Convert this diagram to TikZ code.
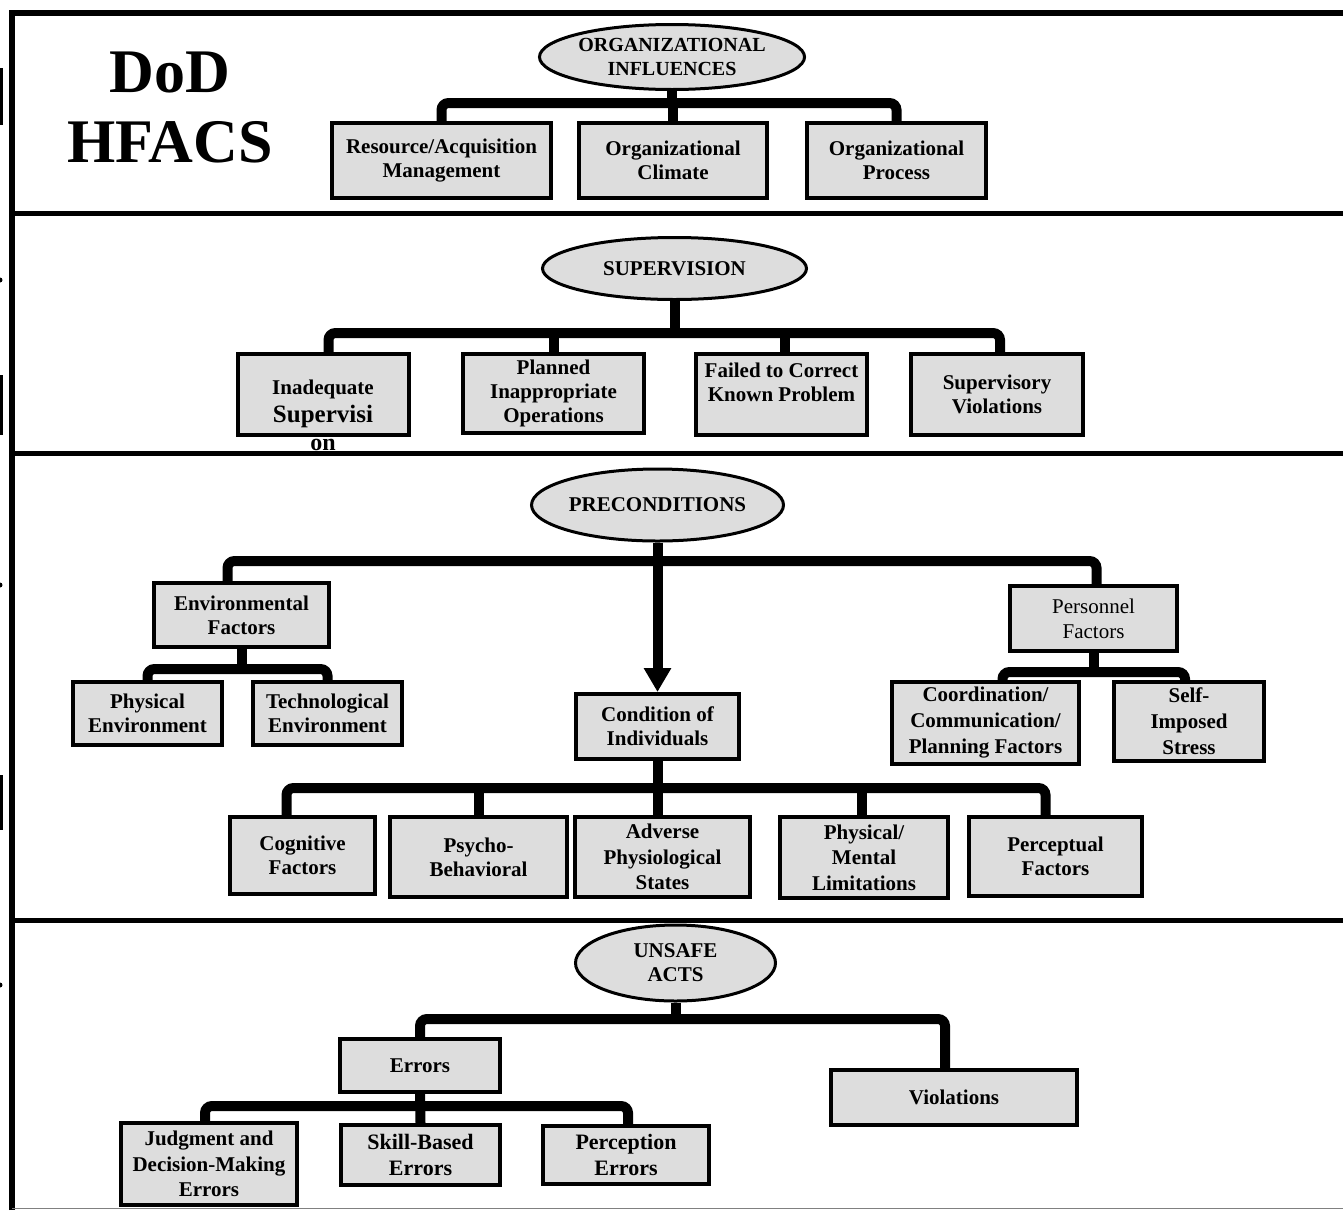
\documentclass[tikz,border=0pt]{standalone}
\usepackage{fontspec}
\setmainfont{Liberation Serif}
\usetikzlibrary{shapes.geometric,arrows.meta}
\definecolor{boxgray}{RGB}{221,221,221}
\tikzset{
  box/.style={draw, line width=4pt, fill=boxgray, inner sep=0pt, align=center,
    font=\bfseries\fontsize{21}{24}\selectfont},
  oval/.style={ellipse, draw, line width=3pt, fill=boxgray, inner sep=0pt, align=center,
    font=\bfseries\fontsize{21}{24}\selectfont},
  conn/.style={line width=10pt, rounded corners=7pt},
  divider/.style={line width=5pt},
  plaintext/.style={inner sep=0pt, align=center}
}
\begin{document}
\begin{tikzpicture}[x=1pt,y=-1pt]
\useasboundingbox (0,0) rectangle (1343,1210);
% frame
\draw[line width=6pt, line join=miter] (12,1210) -- (12,13) -- (1343,13);
\draw[divider] (12,213) -- (1343,213);
\draw[divider] (12,453) -- (1343,453);
\draw[divider] (12,920) -- (1343,920);
\draw[gray, line width=1.5pt] (12,1208.5) -- (1343,1208.5);
% left-edge fragments
\fill (0,68) rectangle (3,125);
\fill (0,375) rectangle (3,435);
\fill (0,775) rectangle (3,830);
\fill (0,280) circle (2.5);
\fill (0,585) circle (2.5);
\fill (0,985) circle (2.5);
% title
\node[plaintext, font=\bfseries\fontsize{62}{70}\selectfont] (title) at (170,108) {DoD\\HFACS};

% ---------- Organizational influences
\node[oval, minimum width=263pt, minimum height=65pt, font=\bfseries\fontsize{20}{24}\selectfont] (org) at (672,57) {ORGANIZATIONAL\\INFLUENCES};
\node[box, minimum width=219pt, minimum height=75pt] (res) at (441.5,160.5) {Resource/Acquisition\\Management};
\node[box, minimum width=188pt, minimum height=75pt] (clim) at (673,160.5) {Organizational\\Climate};
\node[box, minimum width=179pt, minimum height=75pt] (proc) at (896.5,160.5) {Organizational\\Process};
\coordinate (obar) at (672,103);
\draw[conn] (res.north) |- (obar) -| (proc.north);
\draw[conn] (org.south) -- (obar);
\draw[conn] (clim.north) -- (clim.north |- obar);

% ---------- Supervision
\node[oval, minimum width=264pt, minimum height=62pt] (sup) at (674.5,268.5) {SUPERVISION};
\node[box, minimum width=171pt, minimum height=81pt] (inad) at (323.5,394.5) {};
\node[plaintext, font=\bfseries\fontsize{21}{28}\selectfont] (inadtxt) at (323,415)
  {Inadequate\\{\fontsize{25}{28}\selectfont Supervisi}\\{\fontsize{24}{28}\selectfont on}};
\node[box, minimum width=181pt, minimum height=79pt] (plan) at (553.5,393.5) {Planned\\Inappropriate\\Operations};
\node[box, minimum width=171pt, minimum height=81pt] (fail) at (781.5,394.5) {Failed to Correct\\Known Problem\\\mbox{}};
\node[box, minimum width=172pt, minimum height=81pt] (supv) at (997,394.5) {Supervisory\\Violations};
\coordinate (sbar) at (674.5,333);
\draw[conn] ([xshift=5pt]inad.north) |- (sbar) -| ([xshift=3pt]supv.north);
\draw[conn] (sup.south) -- (sbar);
\draw[conn] (plan.north) -- (plan.north |- sbar);
\draw[conn] ([xshift=3pt]fail.north) -- ([xshift=3pt]fail.north |- sbar);

% ---------- Preconditions
\node[oval, minimum width=252pt, minimum height=72pt] (pre) at (657.5,505) {PRECONDITIONS};
\node[box, minimum width=175pt, minimum height=64pt] (envf) at (241.5,615) {Environmental\\Factors};
\node[box, minimum width=167pt, minimum height=65pt, font=\fontsize{21}{25}\selectfont] (pers) at (1093.5,618.5) {Personnel\\Factors};
\node[box, minimum width=149pt, minimum height=63pt] (phys) at (147.5,713.5) {Physical\\Environment};
\node[box, minimum width=149pt, minimum height=63pt] (tech) at (327.5,713.5) {Technological\\Environment};
\node[box, minimum width=187pt, minimum height=82pt, font=\bfseries\fontsize{21}{26}\selectfont] (coord) at (985.5,723) {Coordination/\\Communication/\\Planning Factors};
\node[box, minimum width=150pt, minimum height=79pt, font=\bfseries\fontsize{21}{26}\selectfont] (selfi) at (1189,721.5) {Self-\\Imposed\\Stress};
\node[box, minimum width=163pt, minimum height=65pt] (cond) at (657.5,726.5) {Condition of\\Individuals};
\node[box, minimum width=145pt, minimum height=77pt] (cog) at (302.5,855.5) {Cognitive\\Factors};
\node[box, minimum width=177pt, minimum height=80pt] (psy) at (478.5,857) {Psycho-\\Behavioral};
\node[box, minimum width=175pt, minimum height=80pt, font=\bfseries\fontsize{21}{25.5}\selectfont] (adv) at (662.5,857) {Adverse\\Physiological\\States};
\node[box, minimum width=168pt, minimum height=81pt, font=\bfseries\fontsize{21}{25.5}\selectfont] (pml) at (864,857.5) {Physical/\\Mental\\Limitations};
\node[box, minimum width=173pt, minimum height=79pt] (perc) at (1055.5,856.5) {Perceptual\\Factors};

\coordinate (pbar) at (657.5,561);
\draw[conn] ([xshift=-14pt]envf.north) |- (pbar) -| ([xshift=3pt]pers.north);
\draw[line width=10pt, -{Triangle[length=24pt,width=26pt]}] (pre.south) -- (cond.north);
\coordinate (ebar) at (241.5,669);
\draw[conn] (phys.north) |- (ebar) -| (tech.north);
\draw[conn] (envf.south) -- (ebar);
\coordinate (prbar) at (1093.5,672);
\draw[conn] ([xshift=17pt]coord.north) |- (prbar) -| ([xshift=-4pt]selfi.north);
\draw[conn] (pers.south) -- (prbar);
\coordinate (cbar) at (657.5,788);
\draw[conn] ([xshift=-16pt]cog.north) |- (cbar) -| ([xshift=-10pt]perc.north);
\draw[conn] (cond.south) -- (cbar);
\draw[conn] (psy.north) -- (psy.north |- cbar);
\draw[conn] ([xshift=-5pt]adv.north) -- ([xshift=-5pt]adv.north |- cbar);
\draw[conn] ([xshift=-2pt]pml.north) -- ([xshift=-2pt]pml.north |- cbar);

% ---------- Unsafe acts
\node[oval, minimum width=200pt, minimum height=76pt] (ua) at (675.5,963) {UNSAFE\\ACTS};
\node[box, minimum width=160pt, minimum height=53pt] (errs) at (420,1065.5) {Errors};
\node[box, minimum width=246pt, minimum height=55pt] (viol) at (954,1097.5) {Violations};
\node[box, minimum width=176pt, minimum height=82pt, font=\bfseries\fontsize{21}{25.5}\selectfont] (judg) at (209,1164) {Judgment and\\Decision-Making\\Errors};
\node[box, minimum width=159pt, minimum height=60pt, font=\bfseries\fontsize{22}{26}\selectfont] (skill) at (420.5,1155) {Skill-Based\\Errors};
\node[box, minimum width=166pt, minimum height=58pt, font=\bfseries\fontsize{22}{26}\selectfont] (percep) at (626,1155) {Perception\\Errors};
\coordinate (ubar) at (675.5,1019);
\draw[conn] (errs.north) |- (ubar) -| ([xshift=-9pt]viol.north);
\draw[conn] (ua.south) -- (ubar);
\coordinate (erbar) at (420,1106);
\draw[conn] ([xshift=-4pt]judg.north) |- (erbar) -| ([xshift=2pt]percep.north);
\draw[conn] (errs.south) -- (skill.north);
\end{tikzpicture}
\end{document}
